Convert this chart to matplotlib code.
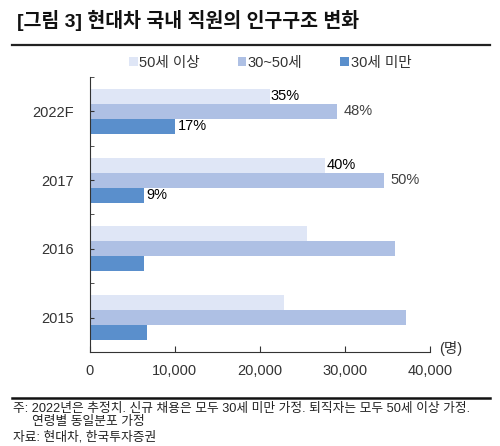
import matplotlib.pyplot as plt
import numpy as np

plt.rcParams['font.family'] = ['Liberation Sans', 'Noto Sans CJK KR', 'DejaVu Sans']

years = ['2022F', '2017', '2016', '2015']
over50 = [21200, 27700, 25500, 22800]
mid30_50 = [29100, 34600, 35900, 37150]
under30 = [10100, 6450, 6400, 6750]
pct_over50 = ['35%', '40%', '', '']
pct_mid = ['48%', '50%', '', '']
pct_under = ['17%', '9%', '', '']
labels = ['50세 이상', '30~50세', '30세 미만']
colors = ['#dfe6f6', '#aec0e4', '#5a8fcc']

fig = plt.figure(figsize=(5, 4.46), dpi=100)
ax = fig.add_axes([0.179, 0.2108, 0.681, 0.6166])

y = np.arange(len(years))[::-1]
h = 0.218
b1 = ax.barh(y + h, over50, height=h, color=colors[0], label=labels[0])
b2 = ax.barh(y, mid30_50, height=h, color=colors[1], label=labels[1])
b3 = ax.barh(y - h, under30, height=h, color=colors[2], label=labels[2])

for bars, pcts, col, off in [(b1, pct_over50, 'black', 1), (b2, pct_mid, '#404040', 6), (b3, pct_under, 'black', 2)]:
    for rect, p in zip(bars, pcts):
        if p:
            ax.annotate(p, (rect.get_width(), rect.get_y() + rect.get_height() / 2),
                        xytext=(off, 0), textcoords='offset pixels',
                        ha='left', va='center', fontsize=10.5, color=col)

ax.set_xlim(0, 40000)
ax.set_ylim(-0.5, 3.5)
ax.set_xticks([0, 10000, 20000, 30000, 40000])
ax.set_xticklabels(['0', '10,000', '20,000', '30,000', '40,000'])
ax.set_yticks(y)
ax.set_yticklabels(years)
ax.set_yticks(np.arange(-0.5, 4, 1), minor=True)
ax.tick_params(axis='x', direction='in', length=4, pad=9, labelsize=10.5, colors='#333333')
ax.tick_params(axis='y', which='both', direction='in', length=3, pad=11, labelsize=10.5, colors='#333333')
for s in ['top', 'right']:
    ax.spines[s].set_visible(False)
ax.spines['left'].set_color('#333333')
ax.spines['bottom'].set_color('#333333')
ax.spines['left'].set_linewidth(0.8)
ax.spines['bottom'].set_linewidth(0.8)

ax.legend(handles=[b1, b2, b3], loc='center', bbox_to_anchor=(0.53, 1 + 14 / 275), ncol=3,
          frameon=False, fontsize=10.5, handlelength=0.6, handleheight=0.6,
          handletextpad=0.1, columnspacing=2.6, labelcolor='#333333')

fig.text(0.902, 1 - 349 / 446, '(명)', ha='center', va='center', fontsize=10.5, color='#333333')

fig.text(0.034, 1 - 20 / 446, '[그림 3] 현대차 국내 직원의 인구구조 변화', ha='left', va='center',
         fontsize=14, fontweight='bold', color='#111111')
fig.add_artist(plt.Line2D([0.024, 0.98], [1 - 45 / 446] * 2, color='#222222', linewidth=1.6))
fig.add_artist(plt.Line2D([0.024, 0.98], [1 - 398 / 446] * 2, color='#111111', linewidth=1.8))

fig.text(0.026, 1 - 409 / 446, '주: 2022년은 추정치. 신규 채용은 모두 30세 미만 가정. 퇴직자는 모두 50세 이상 가정.',
         ha='left', va='center', fontsize=9.2, color='#222222')
fig.text(0.064, 1 - 422 / 446, '연령별 동일분포 가정', ha='left', va='center', fontsize=9.2, color='#222222')
fig.text(0.026, 1 - 437 / 446, '자료: 현대차, 한국투자증권', ha='left', va='center', fontsize=9.2, color='#222222')

fig.savefig('out.png', dpi=100)
